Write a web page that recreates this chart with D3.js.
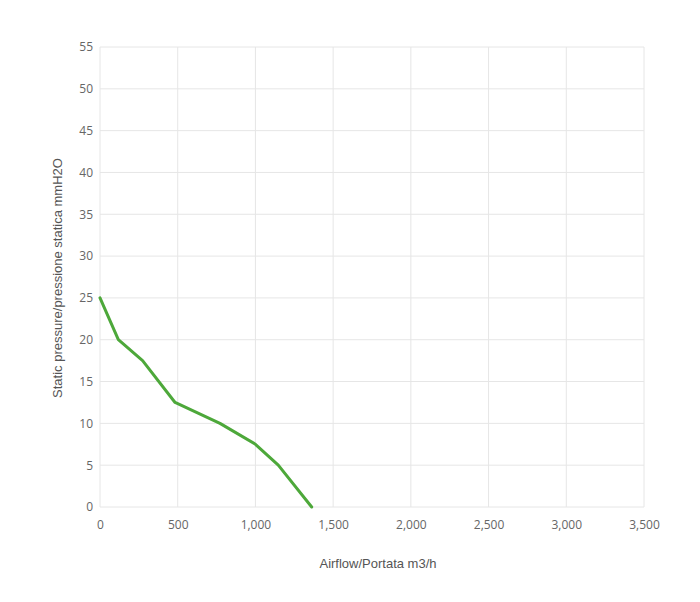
<!DOCTYPE html>
<html>
<head>
<meta charset="utf-8">
<script src="https://cdn.jsdelivr.net/npm/d3@7"></script>
<style>
  body { margin: 0; background: #fff; }
  .tick text { font-family: "Open Sans", sans-serif; font-size: 12px; fill: #666; }
  .axis-title { font-family: "Liberation Sans", Arial, sans-serif; font-size: 13px; fill: #555; }
</style>
</head>
<body>
<svg id="chart"></svg>
<script>
// airflow (m3/h) vs static pressure (mmH2O)
var airflow = [0, 118, 274, 483, 772, 1000, 1147, 1362];
var pressure = [25, 20, 17.5, 12.5, 10, 7.5, 5, 0];
var xTicks = [0, 500, 1000, 1500, 2000, 2500, 3000, 3500];
var yTicks = [0, 5, 10, 15, 20, 25, 30, 35, 40, 45, 50, 55];

var chart_width = 700;
var chart_height = 602;
var margin = { top: 47, right: 56, bottom: 95, left: 100 };
var width = chart_width - margin.left - margin.right;
var height = chart_height - margin.top - margin.bottom;

var svg = d3.select('#chart')
    .attr('width', chart_width)
    .attr('height', chart_height);

var g = svg.append('g')
    .attr('transform', 'translate(' + margin.left + ',' + margin.top + ')');

var xScale = d3.scaleLinear().domain([0, 3500]).range([0, width]);
var yScale = d3.scaleLinear().domain([0, 55]).range([height, 0]);

// grid
g.append('g').selectAll('line')
    .data(yTicks)
    .enter().append('line')
    .attr('x1', 0).attr('x2', width)
    .attr('y1', d => yScale(d)).attr('y2', d => yScale(d))
    .attr('stroke', '#e6e6e6');

g.append('g').selectAll('line')
    .data(xTicks)
    .enter().append('line')
    .attr('y1', 0).attr('y2', height)
    .attr('x1', d => xScale(d)).attr('x2', d => xScale(d))
    .attr('stroke', '#e6e6e6');

// axes (labels only)
var xAxis = g.append('g')
    .attr('transform', 'translate(0,' + height + ')')
    .call(d3.axisBottom(xScale).tickValues(xTicks).tickSize(0).tickPadding(13).tickFormat(d3.format(',')));
xAxis.select('.domain').remove();

var yAxis = g.append('g')
    .call(d3.axisLeft(yScale).tickValues(yTicks).tickSize(0).tickPadding(7));
yAxis.select('.domain').remove();

// line
var line = d3.line()
    .x((d, i) => xScale(airflow[i]))
    .y(d => yScale(d));

g.append('path')
    .datum(pressure)
    .attr('fill', 'none')
    .attr('stroke', '#4da83a')
    .attr('stroke-width', 3)
    .attr('stroke-linejoin', 'round')
    .attr('stroke-linecap', 'round')
    .attr('d', line);

// titles
svg.append('text')
    .attr('class', 'axis-title')
    .attr('x', 378)
    .attr('y', 568)
    .attr('text-anchor', 'middle')
    .text('Airflow/Portata m3/h');

svg.append('text')
    .attr('class', 'axis-title')
    .attr('transform', 'translate(62,' + 278 + ') rotate(-90)')
    .attr('text-anchor', 'middle')
    .text('Static pressure/pressione statica mmH2O');
</script>
</body>
</html>
